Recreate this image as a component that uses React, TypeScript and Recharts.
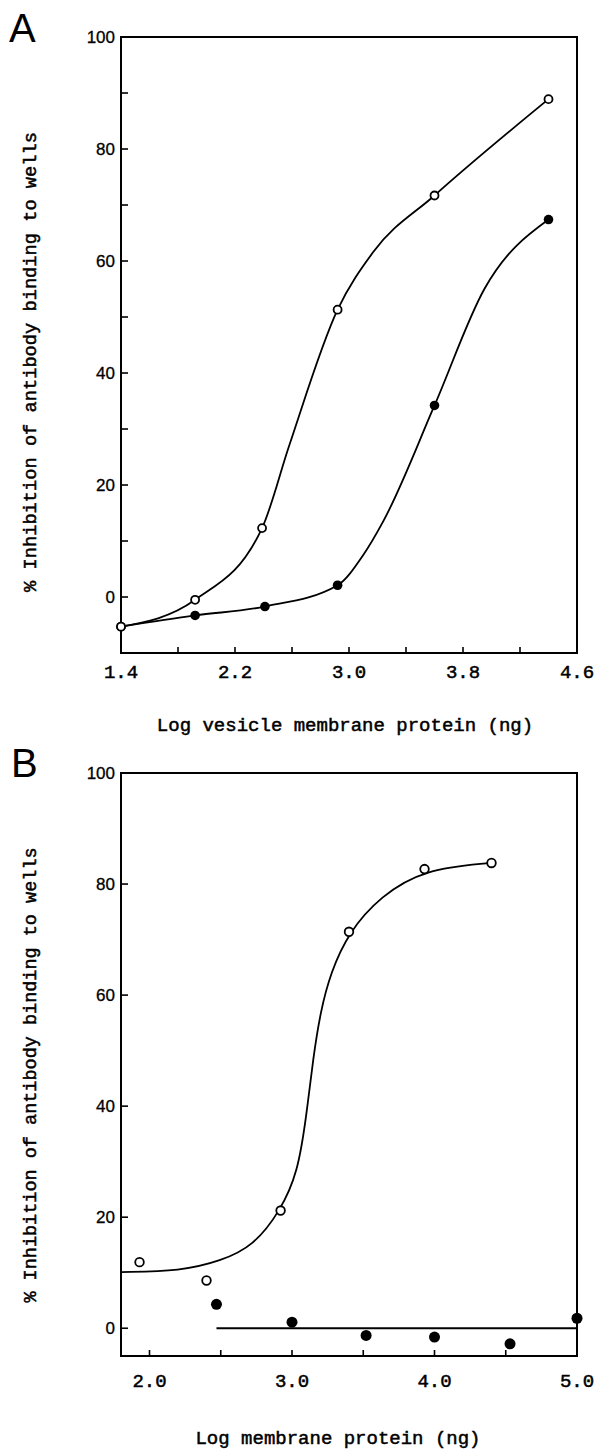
import React from "react";
import { ComposedChart, Line, Scatter, XAxis, YAxis, ReferenceArea } from "recharts";

// Panel A: log vesicle membrane protein (ng) vs % inhibition
const aOpen = [
  { x: 1.4, y: -5.3 },
  { x: 1.92, y: -0.5 },
  { x: 2.39, y: 12.3 },
  { x: 2.92, y: 51.3 },
  { x: 3.6, y: 71.7 },
  { x: 4.4, y: 88.9 },
];
const aFilled = [
  { x: 1.4, y: -5.3 },
  { x: 1.92, y: -3.3 },
  { x: 2.41, y: -1.7 },
  { x: 2.92, y: 2.1 },
  { x: 3.6, y: 34.2 },
  { x: 4.4, y: 67.4 },
];
// hand-drawn curves
const aOpenCurve = [
  { x: 1.4, y: -5.3 },
  { x: 1.92, y: -0.5 },
  { x: 2.39, y: 12.3 },
  { x: 2.58, y: 27 },
  { x: 2.92, y: 51.3 },
  { x: 3.17, y: 61.6 },
  { x: 3.6, y: 71.7 },
  { x: 4.4, y: 88.9 },
];
const aFilledCurve = [
  { x: 1.4, y: -5.3 },
  { x: 1.92, y: -3.3 },
  { x: 2.41, y: -1.7 },
  { x: 2.92, y: 2.1 },
  { x: 3.1, y: 7.5 },
  { x: 3.24, y: 13.5 },
  { x: 3.6, y: 34.2 },
  { x: 3.95, y: 55 },
  { x: 4.4, y: 67.4 },
];
const aXTicks = [1.4, 1.8, 2.2, 2.6, 3.0, 3.4, 3.8, 4.2, 4.6];
const aXLabels = [1.4, 2.2, 3.0, 3.8, 4.6];
const aYTicks = [0, 10, 20, 30, 40, 50, 60, 70, 80, 90, 100];
const aYLabels = [0, 20, 40, 60, 80, 100];

// Panel B: log membrane protein (ng) vs % inhibition
const bOpen = [
  { x: 1.93, y: 11.9 },
  { x: 2.4, y: 8.6 },
  { x: 2.92, y: 21.2 },
  { x: 3.4, y: 71.4 },
  { x: 3.93, y: 82.7 },
  { x: 4.4, y: 83.8 },
];
const bOpenCurve = [
  { x: 1.8, y: 10.1 },
  { x: 2.22, y: 10.3 },
  { x: 2.5, y: 12.1 },
  { x: 2.73, y: 14.8 },
  { x: 2.92, y: 21.2 },
  { x: 3.04, y: 28 },
  { x: 3.1, y: 38 },
  { x: 3.15, y: 49 },
  { x: 3.2, y: 57 },
  { x: 3.27, y: 64 },
  { x: 3.4, y: 71.4 },
  { x: 3.62, y: 77.8 },
  { x: 3.93, y: 82.7 },
  { x: 4.4, y: 83.8 },
];
const bFilled = [
  { x: 2.47, y: 4.3 },
  { x: 3.0, y: 1.1 },
  { x: 3.52, y: -1.3 },
  { x: 4.0, y: -1.6 },
  { x: 4.53, y: -2.8 },
  { x: 5.0, y: 1.8 },
];
const bFilledLine = [
  { x: 2.47, y: 0 },
  { x: 5.0, y: 0 },
];
const bXTicks = [2.0, 2.5, 3.0, 3.5, 4.0, 4.5, 5.0];
const bXLabels = [2.0, 3.0, 4.0, 5.0];
const bYTicks = [0, 20, 40, 60, 80, 100];

const MONO = "'Liberation Mono', 'DejaVu Sans Mono', monospace";
const SANS = "'Liberation Sans', Arial, sans-serif";
const Y_TITLE = "% Inhibition of antibody binding to wells";
const monoText = { fontFamily: MONO, fill: "#000", stroke: "#000", strokeWidth: 0.5 };

const has = (list: number[], v: number) => list.some((l) => Math.abs(l - v) < 1e-6);

function xTick(labels: number[], margin: number) {
  return (p: any) => {
    const v = p.payload.value;
    const axisY = p.y - margin;
    return (
      <g>
        <line x1={p.x} x2={p.x} y1={axisY} y2={axisY - 6} stroke="#000" strokeWidth={1.6} />
        {has(labels, v) && (
          <text x={p.x} y={p.y} dy="0.35em" textAnchor="middle" fontSize={19} {...monoText}>
            {v.toFixed(1)}
          </text>
        )}
      </g>
    );
  };
}

function yTick(labels: number[], margin: number) {
  return (p: any) => {
    const v = p.payload.value;
    const axisX = p.x + margin;
    return (
      <g>
        <line x1={axisX} x2={axisX + 7} y1={p.y} y2={p.y} stroke="#000" strokeWidth={1.6} />
        {has(labels, v) && (
          <text x={p.x} y={p.y} dy="0.36em" textAnchor="end" fontFamily={SANS} fontSize={17} fill="#000" stroke="#000" strokeWidth={0.3}>
            {v}
          </text>
        )}
      </g>
    );
  };
}

const openShape = (r: number) => (p: any) =>
  <circle cx={p.cx} cy={p.cy} r={r} fill="#fff" stroke="#000" strokeWidth={1.8} />;
const filledShape = (r: number) => (p: any) => <circle cx={p.cx} cy={p.cy} r={r} fill="#000" />;

function PanelA() {
  return (
    <ComposedChart width={597} height={700} margin={{ top: 37, right: 20, bottom: 0, left: 0 }}>
      <XAxis
        type="number"
        dataKey="x"
        domain={[1.4, 4.6]}
        ticks={aXTicks}
        interval={0}
        height={47}
        axisLine={false}
        tickLine={false}
        tickSize={0}
        tickMargin={18}
        tick={xTick(aXLabels, 18)}
      />
      <YAxis
        type="number"
        domain={[-10, 100]}
        ticks={aYTicks}
        interval={0}
        width={121}
        axisLine={false}
        tickLine={false}
        tickSize={0}
        tickMargin={6}
        tick={yTick(aYLabels, 6)}
      />
      <ReferenceArea x1={1.4} x2={4.6} y1={-10} y2={100} fill="none" fillOpacity={0} stroke="#000" strokeWidth={2} />
      <Line data={aFilledCurve} dataKey="y" type="monotone" stroke="#000" strokeWidth={1.8} dot={false} isAnimationActive={false} />
      <Line data={aOpenCurve} dataKey="y" type="monotone" stroke="#000" strokeWidth={1.8} dot={false} isAnimationActive={false} />
      <Scatter data={aFilled} dataKey="y" isAnimationActive={false} shape={filledShape(4.8)} />
      <Scatter data={aOpen} dataKey="y" isAnimationActive={false} shape={openShape(4)} />
    </ComposedChart>
  );
}

function PanelB() {
  return (
    <ComposedChart width={597} height={664} margin={{ top: 37, right: 20, bottom: 0, left: 0 }}>
      <XAxis
        type="number"
        dataKey="x"
        domain={[1.8, 5.0]}
        ticks={bXTicks}
        interval={0}
        height={44}
        axisLine={false}
        tickLine={false}
        tickSize={0}
        tickMargin={24}
        tick={xTick(bXLabels, 24)}
      />
      <YAxis
        type="number"
        domain={[-5, 100]}
        ticks={bYTicks}
        interval={0}
        width={121}
        axisLine={false}
        tickLine={false}
        tickSize={0}
        tickMargin={6}
        tick={yTick(bYTicks, 6)}
      />
      <ReferenceArea x1={1.8} x2={5.0} y1={-5} y2={100} fill="none" fillOpacity={0} stroke="#000" strokeWidth={2} />
      <Line data={bOpenCurve} dataKey="y" type="basis" stroke="#000" strokeWidth={1.8} dot={false} isAnimationActive={false} />
      <Line data={bFilledLine} dataKey="y" type="linear" stroke="#000" strokeWidth={1.8} dot={false} isAnimationActive={false} />
      <Scatter data={bOpen} dataKey="y" isAnimationActive={false} shape={openShape(4.3)} />
      <Scatter data={bFilled} dataKey="y" isAnimationActive={false} shape={filledShape(5.5)} />
    </ComposedChart>
  );
}

export default function App() {
  return (
    <div style={{ position: "absolute", left: 0, top: 0, width: 597, height: 1449, background: "#fff" }}>
      <div style={{ position: "absolute", left: 0, top: 0 }}>
        <PanelA />
      </div>
      <div style={{ position: "absolute", left: 0, top: 736 }}>
        <PanelB />
      </div>
      <svg width={597} height={1449} style={{ position: "absolute", left: 0, top: 0, pointerEvents: "none" }}>
        <text x={9} y={42} fontFamily={SANS} fontSize={40} fill="#000">A</text>
        <text x={11} y={777} fontFamily={SANS} fontSize={40} fill="#000">B</text>
        <text x={345} y={731} textAnchor="middle" fontSize={19} {...monoText}>
          Log vesicle membrane protein (ng)
        </text>
        <text x={338} y={1444} textAnchor="middle" fontSize={19} {...monoText}>
          Log membrane protein (ng)
        </text>
        <text transform="translate(36 362) rotate(-90)" textAnchor="middle" fontSize={18.7} {...monoText}>
          {Y_TITLE}
        </text>
        <text transform="translate(36 1075) rotate(-90)" textAnchor="middle" fontSize={18.5} {...monoText}>
          {Y_TITLE}
        </text>
      </svg>
    </div>
  );
}
